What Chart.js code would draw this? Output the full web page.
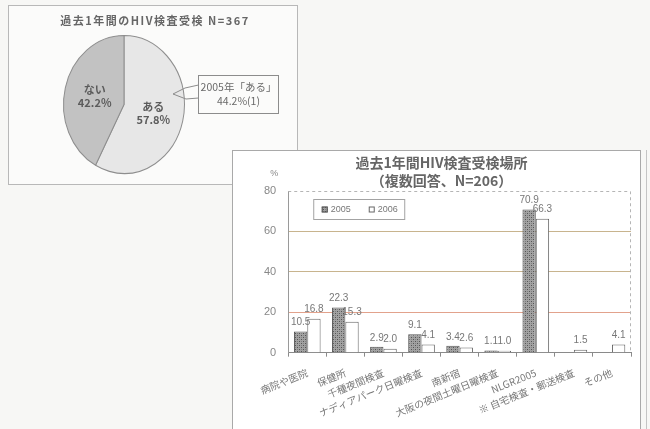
<!DOCTYPE html>
<html>
<head>
<meta charset="utf-8">
<script src="https://cdn.jsdelivr.net/npm/chart.js@4.4.0/dist/chart.umd.min.js"></script>
<style>
    body { margin: 0; width: 650px; height: 429px; overflow: hidden; position: relative; background: #f7f7f5; }
    #pieBox { position: absolute; left: 8px; top: 5px; width: 288px; height: 178px; border: 1px solid #b8b8b8; background: #fbfbfa; }
    #barBox { position: absolute; left: 232px; top: 150px; width: 407px; height: 290px; border: 1px solid #a9a9a9; background: #fff; }
    #edge { position: absolute; left: 646px; top: 150px; width: 1px; height: 279px; background: #c4c4c4; }
    canvas { position: absolute; left: 0; top: 0; }
</style>
</head>
<body>
<div id="pieBox"><canvas id="pie" width="288" height="178"></canvas></div>
<div id="barBox"><canvas id="bar" width="407" height="278"></canvas></div>
<div id="edge"></div>
<script>
// pie: 過去1年間のHIV検査受検
const pieLabels = ['ある', 'ない'];
const pieValues = [57.8, 42.2];
const pieTitle = '過去1年間のHIV検査受検 N=367';
const pieNote = ['2005年「ある」', '44.2%(1)'];

// bars: 過去1年間HIV検査受検場所
const places = ['病院や医院', '保健所', '千種夜間検査', 'ナディアパーク日曜検査', '南新宿',
    '大阪の夜間土曜日曜検査', 'NLGR2005', '※ 自宅検査・郵送検査', 'その他'];
const year2005 = [10.5, 22.3, 2.9, 9.1, 3.4, 1.1, 70.9, null, null];
const year2006 = [16.8, 15.3, 2.0, 4.1, 2.6, 1.0, 66.3, 1.5, 4.1];
const yTicks = [0, 20, 40, 60, 80];
const barTitle = ['過去1年間HIV検査受検場所', '（複数回答、N=206）'];

const JP = '"Noto Sans CJK JP", sans-serif';
const pieStretch = 1.14;   // the scanned pie is a bit taller than wide

function hatch() {
    const c = document.createElement('canvas');
    c.width = 4; c.height = 4;
    const g = c.getContext('2d');
    g.fillStyle = '#a2a2a2';
    g.fillRect(0, 0, 4, 4);
    g.fillStyle = '#555';
    g.fillRect(0, 0, 1, 1);
    g.fillRect(2, 2, 1, 1);
    g.fillStyle = '#808080';
    g.fillRect(2, 0, 1, 1);
    g.fillRect(0, 2, 1, 1);
    return g.createPattern(c, 'repeat');
}

const pieDeco = {
    id: 'pieDeco',
    beforeDatasetsDraw(chart) {
        const a = chart.chartArea, ctx = chart.ctx;
        const cx = (a.left + a.right) / 2, cy = (a.top + a.bottom) / 2;
        ctx.save();
        ctx.translate(cx, cy);
        ctx.scale(1, pieStretch);
        ctx.translate(-cx, -cy);
    },
    afterDatasetsDraw(chart) {
        const ctx = chart.ctx;
        ctx.restore();
        const a = chart.chartArea, cy = (a.top + a.bottom) / 2;
        ctx.save();
        ctx.font = 'bold 11px ' + JP;
        ctx.fillStyle = '#5c5c5c';
        ctx.textAlign = 'center';
        ctx.textBaseline = 'middle';
        chart.getDatasetMeta(0).data.forEach((arc, i) => {
            const p = arc.tooltipPosition();
            const y = cy + (p.y - cy) * pieStretch;
            ctx.fillText(pieLabels[i], p.x, y - 6);
            ctx.fillText(pieValues[i].toFixed(1) + '%', p.x, y + 7);
        });
        ctx.restore();
    },
    afterDraw(chart) {
        const ctx = chart.ctx;
        ctx.save();
        ctx.textAlign = 'center';
        ctx.textBaseline = 'middle';
        ctx.fillStyle = '#666';
        ctx.font = 'bold 11px ' + JP;
        ctx.letterSpacing = '1.5px';
        ctx.fillText(pieTitle, 146, 15);
        ctx.letterSpacing = '0px';
        // callout for last year's value
        ctx.strokeStyle = '#8c8c8c';
        ctx.lineWidth = 1;
        ctx.strokeRect(189.5, 69.5, 80, 38);
        ctx.beginPath();
        ctx.moveTo(189.5, 79);
        ctx.lineTo(176, 82);
        ctx.lineTo(164, 88);
        ctx.lineTo(177, 93);
        ctx.lineTo(189.5, 92);
        ctx.stroke();
        ctx.font = '10.5px ' + JP;
        ctx.fillStyle = '#6a6a6a';
        ctx.fillText(pieNote[0], 229.5, 81);
        ctx.fillText(pieNote[1], 229.5, 95);
        ctx.restore();
    }
};

new Chart(document.getElementById('pie'), {
    type: 'pie',
    data: {
        labels: pieLabels,
        datasets: [{
            data: pieValues,
            backgroundColor: ['#e7e7e7', '#c2c2c2'],
            borderColor: '#8e8e8e',
            borderWidth: 1,
            clip: false
        }]
    },
    options: {
        responsive: false,
        animation: false,
        layout: { padding: { left: 54, right: 112, top: 37.5, bottom: 18.5 } },
        plugins: {
            legend: { display: false },
            tooltip: { enabled: false }
        }
    },
    plugins: [pieDeco]
});

const barDeco = {
    id: 'barDeco',
    beforeDatasetsDraw(chart) {
        const a = chart.chartArea, ctx = chart.ctx;
        ctx.save();
        // dashed top / right plot border
        ctx.setLineDash([3, 3]);
        ctx.strokeStyle = '#b5b5b5';
        ctx.lineWidth = 1;
        ctx.beginPath();
        ctx.moveTo(a.left, a.top + 0.5);
        ctx.lineTo(a.right - 0.5, a.top + 0.5);
        ctx.lineTo(a.right - 0.5, a.bottom);
        ctx.stroke();
        ctx.setLineDash([]);
        // framed legend inside the plot
        const fx = a.left + 25.5, fy = a.top + 8.5;
        ctx.strokeStyle = '#a3a3a3';
        ctx.strokeRect(fx, fy, 91, 20);
        ctx.font = '9px "Liberation Sans", sans-serif';
        ctx.textBaseline = 'middle';
        ctx.fillStyle = '#777';
        let x = fx + 8;
        chart.data.datasets.forEach((ds) => {
            ctx.fillStyle = ds.backgroundColor;
            ctx.fillRect(x, fy + 7, 6, 6);
            ctx.strokeStyle = ds.borderColor;
            ctx.strokeRect(x + 0.5, fy + 7.5, 5, 5);
            ctx.fillStyle = '#777';
            ctx.fillText(ds.label, x + 9, fy + 10.5);
            x += 47;
        });
        ctx.restore();
    },
    afterDatasetsDraw(chart) {
        const ctx = chart.ctx;
        ctx.save();
        ctx.font = '10px "Liberation Sans", sans-serif';
        ctx.fillStyle = '#777';
        ctx.textAlign = 'center';
        ctx.textBaseline = 'bottom';
        chart.data.datasets.forEach((ds, i) => {
            chart.getDatasetMeta(i).data.forEach((bar, j) => {
                const v = ds.data[j];
                if (v === null) return;
                ctx.fillText(v.toFixed(1), bar.x, bar.y - 4);
            });
        });
        const a = chart.chartArea;
        ctx.font = '9px "Liberation Sans", sans-serif';
        ctx.fillStyle = '#888';
        ctx.fillText('%', a.left - 14, a.top - 13);
        ctx.restore();
    }
};

new Chart(document.getElementById('bar'), {
    type: 'bar',
    data: {
        labels: places,
        datasets: [
            {
                label: '2005',
                data: year2005,
                backgroundColor: hatch(),
                borderColor: '#555',
                borderWidth: 1
            },
            {
                label: '2006',
                data: year2006,
                backgroundColor: '#fff',
                borderColor: '#666',
                borderWidth: 1
            }
        ]
    },
    options: {
        responsive: false,
        animation: false,
        categoryPercentage: 0.7,
        barPercentage: 1.0,
        layout: { padding: { left: 19, right: 9, top: 0, bottom: 0 } },
        plugins: {
            title: {
                display: true,
                text: barTitle,
                color: '#666',
                font: { family: JP, size: 14, weight: 'bold', lineHeight: 1.25 },
                padding: { top: 3, bottom: 2 }
            },
            legend: { display: false },
            tooltip: { enabled: false }
        },
        scales: {
            x: {
                border: { color: '#8a8a8a' },
                grid: { drawOnChartArea: false, tickLength: 4, color: '#8a8a8a' },
                ticks: {
                    autoSkip: false,
                    minRotation: 22,
                    maxRotation: 22,
                    padding: 10,
                    color: '#777',
                    font: { family: JP, size: 10 }
                }
            },
            y: {
                min: 0,
                max: 80,
                afterBuildTicks: (s) => { s.ticks = yTicks.map(v => ({ value: v })); },
                border: { color: '#9a9a9a' },
                grid: {
                    drawTicks: false,
                    color: (c) => c.tick.value === 20 ? '#e2a28c'
                        : (c.tick.value === 40 || c.tick.value === 60) ? '#c8b48e' : 'rgba(0,0,0,0)'
                },
                ticks: {
                    padding: 12,
                    color: '#888',
                    font: { family: '"Liberation Sans", sans-serif', size: 11 }
                }
            }
        }
    },
    plugins: [barDeco]
});
</script>
</body>
</html>
